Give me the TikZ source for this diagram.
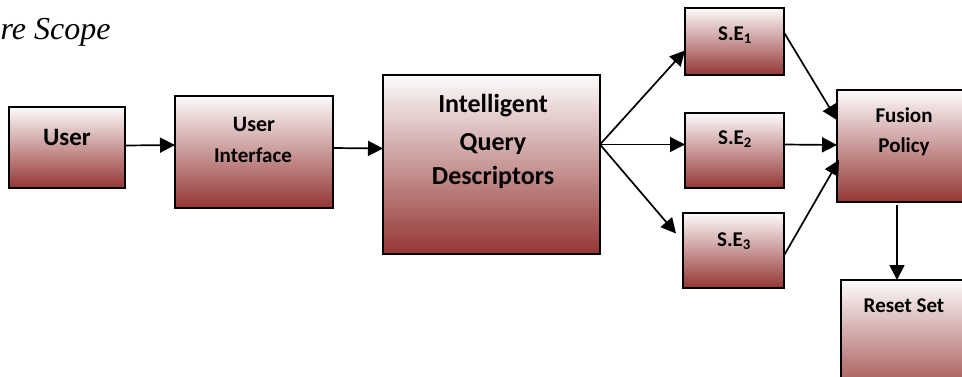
\documentclass[tikz,border=0pt]{standalone}
\usepackage{fontspec}
\setmainfont{Carlito}
\newfontfamily\titlefont{Liberation Serif}
\usetikzlibrary{arrows.meta}
\definecolor{boxred}{RGB}{148,54,52}
\definecolor{boxtop}{RGB}{253,251,251}
\tikzset{
  blk/.style={draw=black, line width=1.8pt, top color=boxtop, bottom color=boxred,
              anchor=north west, inner sep=0pt, outer sep=0pt},
  lbl/.style={anchor=base, font=\bfseries, inner sep=0pt},
  flow/.style={line width=1.7pt, -{Triangle[length=15pt,width=15pt]}}
}
\begin{document}
\begin{tikzpicture}[x=1pt,y=-1pt]
\useasboundingbox (0,0) rectangle (962,376);

% caption fragment at the upper left
\node[anchor=base west, inner sep=0pt, font=\titlefont\itshape\fontsize{32}{36}\selectfont] (cap) at (0.5,39) {re Scope};

% boxes
\node[blk, minimum width=116pt, minimum height=81pt]  (user) at (9,107) {};
\node[blk, minimum width=158pt, minimum height=112pt] (ui)   at (175,96) {};
\node[blk, minimum width=217pt, minimum height=179pt] (iqd)  at (383,75) {};
\node[blk, minimum width=99pt,  minimum height=67pt]  (se1)  at (685,8) {};
\node[blk, minimum width=99pt,  minimum height=75pt]  (se2)  at (685,113) {};
\node[blk, minimum width=101pt, minimum height=75pt]  (se3)  at (683,213) {};
\node[blk, minimum width=134pt, minimum height=112pt] (fus)  at (837,90) {};
\node[blk, minimum width=126pt, minimum height=130pt] (res)  at (841,280) {};

% labels
\node[lbl, font=\bfseries\fontsize{25}{30}\selectfont] (tuser) at (67,145) {User};
\node[lbl, font=\bfseries\fontsize{22}{26}\selectfont] (tui1) at (254,131) {User};
\node[lbl, font=\bfseries\fontsize{21}{26}\selectfont] (tui2) at (253,162) {Interface};
\node[lbl, font=\bfseries\fontsize{26}{30}\selectfont] (tiq1) at (493,112) {Intelligent};
\node[lbl, font=\bfseries\fontsize{26}{30}\selectfont] (tiq2) at (493,150) {Query};
\node[lbl, font=\bfseries\fontsize{26}{30}\selectfont] (tiq3) at (493,184) {Descriptors};
\node[lbl, font=\bfseries\fontsize{21}{26}\selectfont] (tse1) at (735,40) {S.E\textsubscript{1}};
\node[lbl, font=\bfseries\fontsize{21}{26}\selectfont] (tse2) at (735,144) {S.E\textsubscript{2}};
\node[lbl, font=\bfseries\fontsize{21}{26}\selectfont] (tse3) at (734,246) {S.E\textsubscript{3}};
\node[lbl, font=\bfseries\fontsize{21}{26}\selectfont] (tfu1) at (904,122) {Fusion};
\node[lbl, font=\bfseries\fontsize{21}{26}\selectfont] (tfu2) at (904,152) {Policy};
\node[lbl, font=\bfseries\fontsize{21}{26}\selectfont] (tres) at (904,312) {Reset Set};

% connectors
\draw[flow] ([yshift=2pt]user.east) -- ([yshift=7pt]ui.west);
\draw[flow] ([yshift=4pt]ui.east) -- ([yshift=16pt]iqd.west);
\draw[flow] ([yshift=20pt]iqd.east) -- ([yshift=-9pt]se1.west);
\draw[flow] ([yshift=20pt]iqd.east) -- ([yshift=6pt]se2.west);
\draw[flow] ([yshift=20pt]iqd.east) -- ([shift={(-7pt,17pt)}]se3.west);
\draw[flow] ([yshift=9pt]se1.east) -- ([yshift=26pt]fus.west);
\draw[flow] ([yshift=6pt]se2.east) -- ([yshift=1pt]fus.west);
\draw[flow] ([yshift=-5pt]se3.east) -- ([shift={(2pt,-14pt)}]fus.west);
\draw[flow] ([shift={(-7pt,-3pt)}]fus.south) -- ([xshift=-7pt]res.north -| fus.south);
\end{tikzpicture}
\end{document}
